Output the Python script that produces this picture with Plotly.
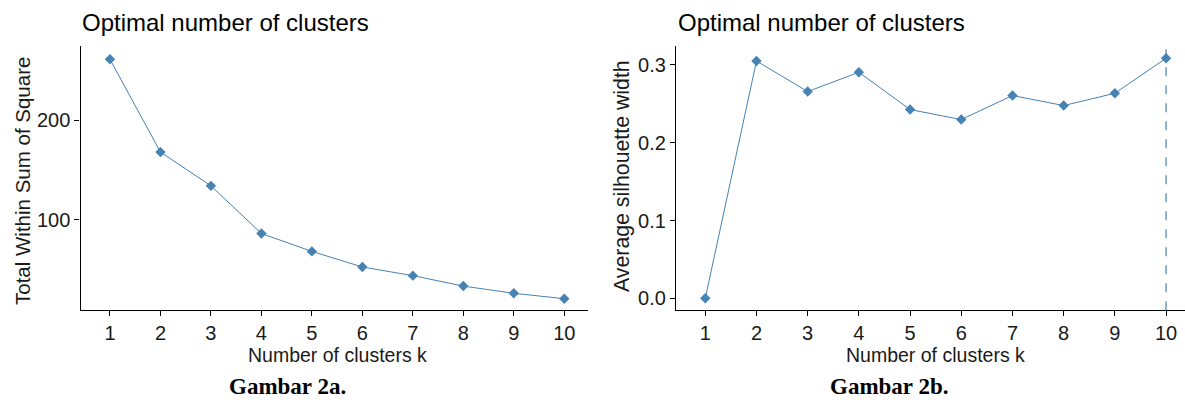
import plotly.graph_objects as go

# ---- data ----
k_values = [1, 2, 3, 4, 5, 6, 7, 8, 9, 10]
wss_values = [261.4, 168.0, 134.0, 86.0, 68.0, 52.3, 43.6, 33.1, 25.8, 20.4]
silhouette_values = [0.0, 0.3051, 0.2658, 0.2906, 0.2427, 0.2298, 0.2607, 0.2478, 0.2636, 0.3086]
optimal_k = 10
x_tick_labels = [str(k) for k in k_values]
title_text = "Optimal number of clusters"
x_title = "Number of clusters k"
y_title_left = "Total Within Sum of Square"
y_title_right = "Average silhouette width"
caption_left = "Gambar 2a."
caption_right = "Gambar 2b."

W, H = 1185, 403
BLUE = "#4682B4"
FONT = "Liberation Sans, Arial, sans-serif"


def px_x(p):
    return p / W


def px_y(p):
    return 1 - p / H


fig = go.Figure()
fig.add_trace(go.Scatter(x=k_values, y=wss_values, mode="lines+markers",
                         line=dict(color=BLUE, width=1),
                         marker=dict(color=BLUE, size=8, symbol="diamond"),
                         xaxis="x", yaxis="y", showlegend=False))
fig.add_trace(go.Scatter(x=k_values, y=silhouette_values, mode="lines+markers",
                         line=dict(color=BLUE, width=1),
                         marker=dict(color=BLUE, size=8, symbol="diamond"),
                         xaxis="x2", yaxis="y2", showlegend=False))

axis_common = dict(showline=True, linecolor="black", linewidth=1.3, showgrid=False,
                   zeroline=False, ticks="outside", ticklen=5, tickwidth=1.2,
                   tickcolor="black", mirror=False,
                   tickfont=dict(family=FONT, size=20, color="#1a1a1a"))

y_dom = [px_y(310.3), px_y(46.3)]

fig.update_layout(
    width=W, height=H,
    margin=dict(l=0, r=0, t=0, b=0),
    paper_bgcolor="white", plot_bgcolor="white",
    xaxis=dict(domain=[px_x(80.5), px_x(588)], range=[0.416, 10.47],
               tickvals=k_values, ticktext=x_tick_labels, anchor="y", **axis_common),
    yaxis=dict(domain=y_dom, range=[8.7, 274.5], tickvals=[100, 200],
               anchor="x", **axis_common),
    xaxis2=dict(domain=[px_x(676), 1.0], range=[0.428, 10.37],
                tickvals=k_values, ticktext=x_tick_labels, anchor="y2", **axis_common),
    yaxis2=dict(domain=y_dom, range=[-0.0154, 0.324], tickvals=[0.0, 0.1, 0.2, 0.3],
                tickformat=".1f", anchor="x2", **axis_common),
)

fig.add_shape(type="line", xref="x2", yref="y2 domain", x0=optimal_k, x1=optimal_k,
              y0=0, y1=1, line=dict(color=BLUE, width=1.2, dash="dash"))

ann = []
# titles
ann.append(dict(text=title_text, x=px_x(80), y=px_y(23), xref="paper", yref="paper",
                xanchor="left", yanchor="middle", showarrow=False,
                font=dict(family=FONT, size=24, color="black")))
ann.append(dict(text=title_text, x=px_x(676), y=px_y(23), xref="paper", yref="paper",
                xanchor="left", yanchor="middle", showarrow=False,
                font=dict(family=FONT, size=24, color="black")))
# x titles
ann.append(dict(text=x_title, x=px_x(337), y=px_y(355), xref="paper", yref="paper",
                xanchor="center", yanchor="middle", showarrow=False,
                font=dict(family=FONT, size=19.5, color="#1a1a1a")))
ann.append(dict(text=x_title, x=px_x(935), y=px_y(355), xref="paper", yref="paper",
                xanchor="center", yanchor="middle", showarrow=False,
                font=dict(family=FONT, size=19.5, color="#1a1a1a")))
# y titles
ann.append(dict(text=y_title_left, x=px_x(22), y=px_y(181), xref="paper", yref="paper",
                xanchor="center", yanchor="middle", textangle=-90, showarrow=False,
                font=dict(family=FONT, size=20.5, color="#1a1a1a")))
ann.append(dict(text=y_title_right, x=px_x(622), y=px_y(176), xref="paper", yref="paper",
                xanchor="center", yanchor="middle", textangle=-90, showarrow=False,
                font=dict(family=FONT, size=21.3, color="#1a1a1a")))
# captions
ann.append(dict(text="<b>" + caption_left + "</b>", x=px_x(287), y=px_y(386), xref="paper",
                yref="paper", xanchor="center", yanchor="middle", showarrow=False,
                font=dict(family="Liberation Serif, Times New Roman, serif", size=23, color="black")))
ann.append(dict(text="<b>" + caption_right + "</b>", x=px_x(889), y=px_y(386), xref="paper",
                yref="paper", xanchor="center", yanchor="middle", showarrow=False,
                font=dict(family="Liberation Serif, Times New Roman, serif", size=23, color="black")))
fig.update_layout(annotations=ann)

fig.write_html("out.html", config={"displayModeBar": False},
               post_script="document.body.style.margin='0';document.body.style.overflow='hidden';")
